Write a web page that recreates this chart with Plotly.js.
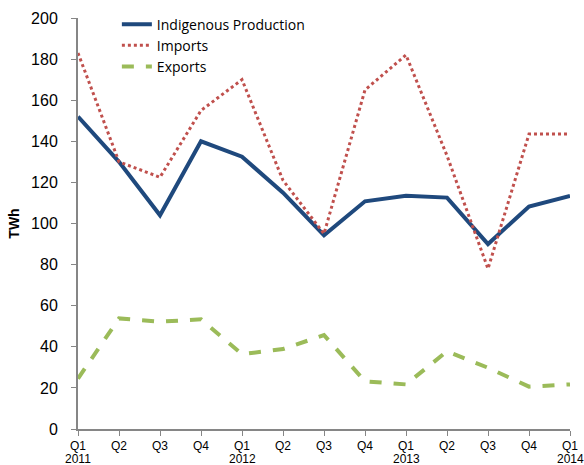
<!DOCTYPE html>
<html>
<head>
<meta charset="utf-8">
<script src="https://cdn.plot.ly/plotly-3.0.1.min.js"></script>
<style>html,body{margin:0;padding:0;background:#fff;}#chart{width:584px;height:465px;}</style>
</head>
<body>
<div id="chart"></div>
<script>
var quarters = ["Q1","Q2","Q3","Q4","Q1","Q2","Q3","Q4","Q1","Q2","Q3","Q4","Q1"];
var years = ["2011","","","","2012","","","","2013","","","","2014"];
var indigenous = [152, 130, 104, 140, 132.5, 115, 94.3, 110.8, 113.5, 112.6, 90, 108.3, 113.4];
var imports = [183, 130, 122.5, 155, 170, 121, 95, 165, 182, 133, 78, 143.5, 143.5];
var exportsVals = [24.5, 53.8, 52.2, 53.4, 36.4, 38.9, 45.7, 23.2, 21.7, 37.8, 29.8, 20.6, 21.7];
var seriesNames = ["Indigenous Production", "Imports", "Exports"];
var yTicks = [0,20,40,60,80,100,120,140,160,180,200];

var xIdx = quarters.map(function(_, i){ return i; });

var traces = [
  {x: xIdx, y: indigenous, name: seriesNames[0], mode: "lines", line: {color: "#1F497D", width: 4}},
  {x: xIdx, y: imports, name: seriesNames[1], mode: "lines", line: {color: "#C0504D", width: 3, dash: "dot"}},
  {x: xIdx, y: exportsVals, name: seriesNames[2], mode: "lines", line: {color: "#9BBB59", width: 4, dash: "dash"}}
];

var annotations = [];
years.forEach(function(yr, i){
  if (yr) annotations.push({x: i, xref: "x", y: 0, yref: "paper", text: yr, showarrow: false,
    yanchor: "middle", xanchor: "center", yshift: -29.5, borderpad: 0,
    font: {size: 12, family: "Liberation Sans, Arial, sans-serif", color: "#000"}});
});

var layout = {
  width: 584, height: 465,
  margin: {l: 78, r: 14, t: 18, b: 36, autoexpand: false},
  paper_bgcolor: "#fff", plot_bgcolor: "#fff",
  font: {family: "Liberation Sans, Arial, sans-serif", size: 14, color: "#000"},
  showlegend: true,
  legend: {x: 0.079, y: 1.023, xanchor: "left", yanchor: "top", bgcolor: "rgba(0,0,0,0)",
           font: {family: "Open Sans, Liberation Sans, sans-serif", size: 14, color: "#000"}, tracegroupgap: 0},
  annotations: annotations,
  xaxis: {
    range: [0, quarters.length - 1], tickmode: "array", tickvals: xIdx, ticktext: quarters,
    showgrid: false, zeroline: false, showline: true, linecolor: "#868686", linewidth: 2,
    ticks: "outside", ticklen: 5, tickcolor: "#868686", tickwidth: 1, ticklabelstandoff: 0,
    tickfont: {size: 12, family: "Liberation Sans, Arial, sans-serif"}, fixedrange: true
  },
  yaxis: {
    range: [0, 200], tickmode: "array", tickvals: yTicks,
    showgrid: false, zeroline: false, showline: true, linecolor: "#868686", linewidth: 2,
    ticks: "outside", ticklen: 5, tickcolor: "#868686", tickwidth: 1, ticklabelstandoff: 10,
    tickfont: {size: 16, family: "Liberation Sans, Arial, sans-serif"},
    title: {text: "<b>TWh</b>", font: {size: 14, family: "Liberation Sans, Arial, sans-serif"}, standoff: 8}
  }
};

Plotly.newPlot("chart", traces, layout, {displayModeBar: false, staticPlot: true});
</script>
</body>
</html>
